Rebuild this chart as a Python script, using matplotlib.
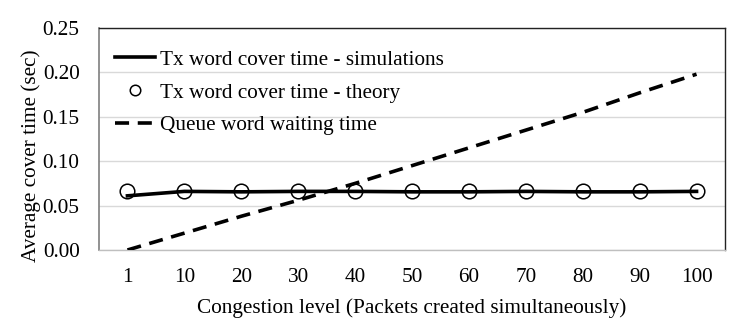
import matplotlib
matplotlib.use("Agg")
import matplotlib.pyplot as plt

categories = ["1", "10", "20", "30", "40", "50", "60", "70", "80", "90", "100"]
sim_values = [0.061, 0.066, 0.0655, 0.066, 0.066, 0.0655, 0.0655, 0.066, 0.0655, 0.0655, 0.066]
theory_values = [0.066, 0.066, 0.066, 0.066, 0.066, 0.066, 0.066, 0.066, 0.066, 0.066, 0.066]
queue_values = [0.0, 0.019, 0.038, 0.056, 0.075, 0.095, 0.115, 0.135, 0.155, 0.177, 0.198]
y_ticks = [0.00, 0.05, 0.10, 0.15, 0.20, 0.25]

FS = 15.3
plt.rcParams['font.family'] = ['Liberation Serif', 'DejaVu Serif']
plt.rcParams['font.size'] = FS

fig = plt.figure(figsize=(7.47, 3.29), dpi=100)
ax = fig.add_axes([99/747, 79/329, (725-99)/747, (250-28)/329])

x = list(range(len(categories)))
ax.plot(x, sim_values, color='black', lw=2.6, label='Tx word cover time - simulations', zorder=3)
ax.plot(x, theory_values, linestyle='none', marker='o', markersize=10.5, markerfacecolor='none',
        markeredgecolor='black', markeredgewidth=1.1, label='Tx word cover time - theory', zorder=4)
ax.plot(x, queue_values, color='black', lw=2.6, linestyle=(0, (3.9, 2.4)), label='Queue word waiting time', zorder=3)

ax.set_xlim(-0.5, len(categories) - 0.5)
ax.set_ylim(0, 0.25)
ax.set_xticks(x)
ax.set_xticklabels(categories)
ax.set_yticks(y_ticks)
ax.set_yticklabels([f"{v:.2f}" for v in y_ticks])
ax.tick_params(axis='both', length=0, labelsize=FS)
ax.tick_params(axis='y', pad=14)
ax.tick_params(axis='x', pad=13)

ax.grid(axis='y', color='#d9d9d9', lw=1)
ax.set_axisbelow(True)
for s in ['top', 'right']:
    ax.spines[s].set_color('#222222')
    ax.spines[s].set_linewidth(1.0)
ax.spines['left'].set_color('#7f7f7f')
ax.spines['left'].set_linewidth(1.2)
ax.spines['bottom'].set_color('#bfbfbf')
ax.spines['bottom'].set_linewidth(1.0)

ax.set_xlabel('Congestion level (Packets created simultaneously)', fontsize=FS, labelpad=8)
ax.set_ylabel('Average cover time (sec)', fontsize=FS)
ax.yaxis.set_label_coords(-0.093, (250 - 156) / 222)

leg = ax.legend(loc='upper left', frameon=False, handlelength=1.88, handletextpad=0.24,
                labelspacing=0.61, borderaxespad=0.35, borderpad=0.4, fontsize=FS,
                markerscale=0.72, bbox_to_anchor=(0.0, 1.0 - 6/222))

fig.savefig('out.png', dpi=100)
